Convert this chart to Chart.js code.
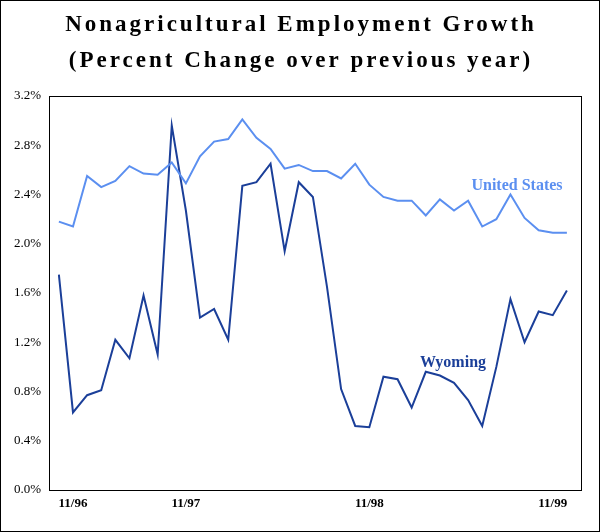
<!DOCTYPE html>
<html><head><meta charset="utf-8">
<script src="https://cdn.jsdelivr.net/npm/chart.js@4"></script>
<style>html,body{margin:0;padding:0;background:#fff}#w{width:598px;height:530px;border:1px solid #000;position:relative}</style>
</head><body><div id="w"><canvas id="c"></canvas></div>
<script>
const months = ["11/96","12/96","1/97","2/97","3/97","4/97","5/97","6/97","7/97","8/97","9/97","10/97","11/97","12/97","1/98","2/98","3/98","4/98","5/98","6/98","7/98","8/98","9/98","10/98","11/98","12/98","1/99","2/99","3/99","4/99","5/99","6/99","7/99","8/99","9/99","10/99","11/99"];
const unitedStates = [2.18,2.14,2.55,2.46,2.51,2.63,2.57,2.56,2.66,2.49,2.71,2.83,2.85,3.01,2.86,2.77,2.61,2.64,2.59,2.59,2.53,2.65,2.48,2.38,2.35,2.35,2.23,2.36,2.27,2.35,2.14,2.20,2.40,2.21,2.11,2.09,2.09];
const wyoming = [1.75,0.63,0.77,0.81,1.22,1.07,1.58,1.10,2.96,2.27,1.40,1.47,1.22,2.47,2.50,2.65,1.94,2.50,2.38,1.65,0.82,0.52,0.51,0.92,0.90,0.67,0.96,0.93,0.87,0.73,0.52,1.00,1.55,1.20,1.45,1.42,1.62];
const tickLabels = {1:"11/96",9:"11/97",22:"11/98",35:"11/99"};
const US_C = "#5b8ff0", WY_C = "#1b3f99";
const serif = "'Liberation Serif','DejaVu Serif',serif";
const decor = {
  id:'decor',
  afterDraw(ch){
    const {ctx, chartArea:a} = ch;
    ctx.save();
    ctx.strokeStyle="#000"; ctx.lineWidth=1;
    ctx.strokeRect(a.left+0.5,a.top+0.5,a.right-a.left,a.bottom-a.top);
    ctx.fillStyle="#000"; ctx.textAlign="center"; ctx.textBaseline="alphabetic";
    ctx.font="bold 23px "+serif;
    ctx.letterSpacing="3px";
    ctx.fillText("Nonagricultural Employment Growth",300,30);
    ctx.fillText("(Percent Change over previous year)",300,66);
    ctx.letterSpacing="0px";
    ctx.font="bold 16px "+serif;
    ctx.fillStyle=US_C; ctx.fillText("United States",516,189);
    ctx.fillStyle=WY_C; ctx.fillText("Wyoming",452,366);
    ctx.restore();
  }
};
new Chart(document.getElementById('c'),{
  type:'line',
  data:{datasets:[
    {data:unitedStates.map((v,i)=>({x:i,y:v})),borderColor:US_C,borderWidth:2,pointRadius:0,tension:0},
    {data:wyoming.map((v,i)=>({x:i,y:v})),borderColor:WY_C,borderWidth:2,pointRadius:0,tension:0}
  ]},
  options:{
    responsive:true,maintainAspectRatio:false,animation:false,
    layout:{padding:{top:95,right:18,bottom:0,left:0}},
    plugins:{legend:{display:false},tooltip:{enabled:false}},
    scales:{
      x:{type:'linear',min:-0.7,max:37,
        afterBuildTicks(s){s.ticks=Object.keys(tickLabels).map(k=>({value:+k}));},
        ticks:{callback:v=>tickLabels[v]||"",color:"#000",font:{family:serif,size:13,weight:'bold'},maxRotation:0,padding:2},
        grid:{display:false,drawTicks:true,tickLength:4},border:{color:"#000"},
        afterFit(s){s.height=41;}},
      y:{min:0,max:3.2,
        ticks:{stepSize:0.4,callback:v=>v.toFixed(1)+"%",color:"#000",font:{family:serif,size:13},padding:4},
        grid:{display:false,tickLength:4},border:{color:"#000"},
        afterFit(s){s.width=48;}}
    }
  },
  plugins:[decor]
});
</script></body></html>
